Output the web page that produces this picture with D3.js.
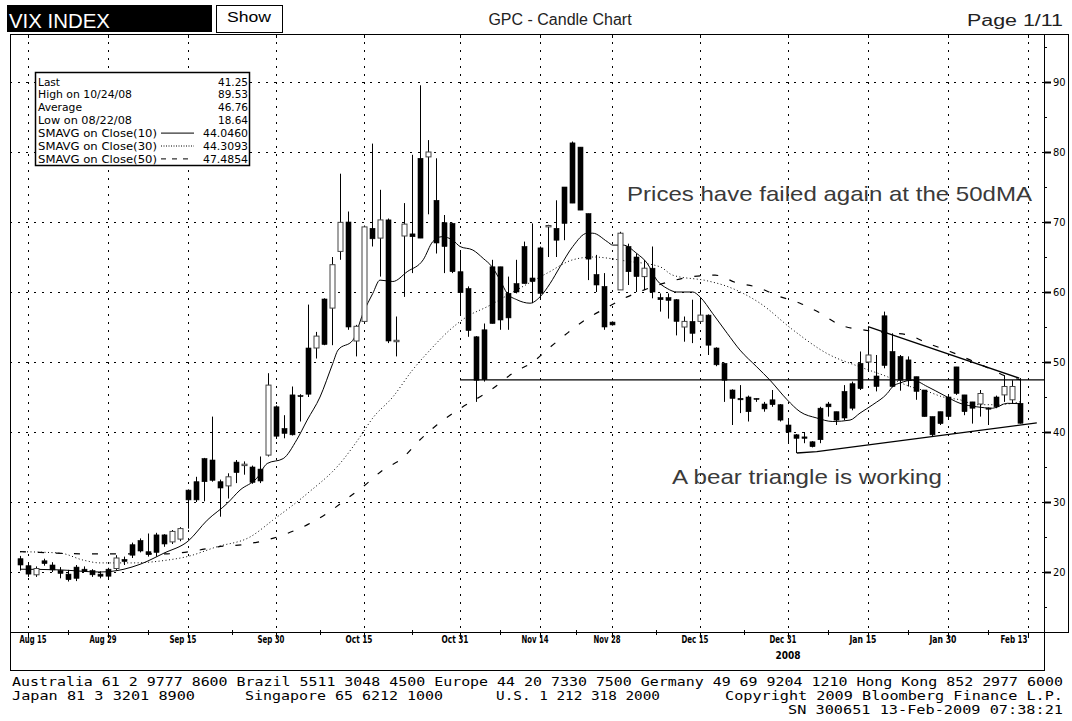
<!DOCTYPE html>
<html><head><meta charset="utf-8">
<script src="https://cdn.jsdelivr.net/npm/d3@7"></script>
<style>body{margin:0;background:#fff}svg{display:block}</style>
</head><body><svg id="c" width="1072" height="721"></svg>
<script>
// ---------- DATA ----------
const months = ["Aug","Sep","Oct","Nov","Dec","Jan","Feb"];
const days = [
  [14,15,18,19,20,21,22,25,26,27,28,29],
  [2,3,4,5,8,9,10,11,12,15,16,17,18,19,22,23,24,25,26,29,30],
  [1,2,3,6,7,8,9,10,13,14,15,16,17,20,21,22,23,24,27,28,29,30,31],
  [3,4,5,6,7,10,11,12,13,14,17,18,19,20,21,24,25,26,28],
  [1,2,3,4,5,8,9,10,11,12,15,16,17,18,19,22,23,24,26,29,30,31],
  [2,5,6,7,8,9,12,13,14,15,16,20,21,22,23,26,27,28,29,30],
  [2,3,4,5,6,9,10,11,12]
];
const open = [21.9,20.9,19.6,21.6,21.0,20.2,19.7,20.7,20.4,20.2,19.7,20.4,
 20.5,21.8,23.9,24.5,22.9,25.3,25.3,24.3,24.7,31.7,32.9,36.2,36.0,32.9,32.3,35.7,35.2,35.0,34.7,36.7,43.6,
 40.5,45.3,45.2,52.0,52.0,59.0,57.7,65.8,70.0,53.0,55.8,69.1,67.7,70.3,52.9,68.0,68.3,79.1,79.3,73.1,69.9,69.8,62.9,
 60.5,53.6,54.6,63.6,63.6,59.8,61.2,66.5,62.0,66.3,69.3,69.1,75.0,81.3,80.7,71.2,62.5,60.8,55.7,
 60.3,66.5,65.0,62.2,63.4,59.2,59.2,58.9,55.0,55.8,55.8,56.7,52.0,49.8,46.0,44.8,45.0,44.8,44.0,44.6,43.9,41.0,
 39.6,39.3,38.6,43.4,44.0,42.9,45.8,46.9,49.8,50.0,48.0,56.6,51.5,50.8,50.3,47.9,46.0,42.2,42.9,45.0,
 49.3,45.3,44.3,44.0,43.4,45.0,45.3,44.6,44.1];
const high = [22.3,21.4,20.8,21.9,21.4,20.7,20.3,21.0,20.8,20.4,20.1,20.6,
 22.4,22.2,24.2,24.8,25.5,25.6,25.4,26.0,26.4,31.8,33.6,36.3,42.2,33.2,34.1,36.0,35.8,35.2,36.5,48.4,43.8,
 42.4,46.5,45.4,58.2,54.3,59.1,65.0,76.9,71.5,55.3,69.5,81.2,74.6,70.5,56.5,72.7,79.6,89.53,81.7,79.1,71.0,69.9,65.8,
 60.8,53.7,55.5,64.6,63.6,62.2,64.6,67.2,69.8,66.5,69.6,73.1,75.0,81.5,80.7,71.2,65.3,62.7,55.8,
 68.6,66.9,65.5,64.6,66.5,59.8,59.8,59.0,56.5,58.9,58.9,56.8,52.1,49.9,46.1,46.7,45.2,44.8,44.3,46.0,44.0,41.7,
 39.7,40.0,38.7,43.6,44.3,42.9,46.7,47.2,51.5,55.0,51.0,57.2,54.1,51.0,50.8,47.9,46.0,42.2,42.9,45.2,
 49.3,45.3,44.3,46.0,43.5,45.2,48.1,47.4,47.7];
const low = [20.2,19.3,19.3,20.9,20.0,19.1,18.64,18.7,20.0,19.3,19.1,19.1,
 20.3,21.0,22.0,22.8,22.2,22.2,23.6,24.0,24.4,26.2,30.0,30.1,32.9,27.9,30.5,32.7,33.9,32.6,32.7,36.5,39.0,
 39.1,39.5,41.5,45.0,50.5,52.4,52.4,64.6,54.6,50.8,55.5,66.5,62.2,52.7,50.8,59.3,62.7,67.7,71.1,65.5,62.7,62.7,56.7,
 53.6,44.3,47.2,55.5,54.6,54.6,59.8,61.2,58.4,58.9,65.0,65.0,67.4,72.7,71.7,61.7,60.0,54.6,55.2,
 60.3,61.0,60.0,60.3,59.1,57.2,56.2,53.8,52.9,52.7,55.5,51.0,49.4,44.3,41.0,42.7,41.5,44.3,42.9,43.6,41.5,38.4,
 37.0,38.4,37.8,38.4,42.2,41.0,41.7,43.1,46.0,48.6,45.8,49.1,46.4,45.9,46.5,44.6,42.2,39.3,41.0,42.0,
 45.3,42.4,41.2,42.2,41.0,43.4,44.3,44.1,41.2];
const close = [21.0,19.7,20.5,21.2,20.3,19.8,18.9,19.1,20.1,19.6,19.4,19.4,
 22.0,21.5,22.4,23.0,22.5,22.8,24.0,25.8,26.2,30.3,30.3,32.9,33.1,32.0,33.6,34.2,35.4,32.8,33.0,46.7,39.4,
 39.8,39.6,45.1,45.4,53.7,52.5,63.9,69.95,55.0,55.1,69.3,67.6,70.3,53.0,53.1,69.7,67.9,67.7,80.0,67.0,66.5,62.9,59.9,
 54.5,47.4,47.5,55.5,56.0,56.3,60.0,61.2,61.5,59.8,69.5,67.4,69.8,72.7,71.7,64.7,61.0,55.0,55.3,
 68.4,62.9,62.2,63.4,60.0,58.9,58.8,55.8,55.8,54.1,56.7,52.4,49.6,47.4,44.8,44.6,42.9,44.7,43.3,43.9,41.7,40.0,
 39.1,39.1,37.9,38.9,43.6,41.7,42.0,43.4,46.2,51.0,46.5,49.5,46.5,47.4,47.4,45.8,42.2,39.6,41.2,42.2,
 45.5,42.9,43.4,45.5,43.3,43.6,46.5,46.5,41.25];

// moving averages: [day position, value]
const ma10 = [[0,20.4],[5,20.3],[10,20.0],[13,20.4],[15,21.1],[18,22.7],[21,24.4],[23.4,27.4],[25.9,29.8],[27.5,31.7],[29.6,33.4],[30.9,35.5],[32.9,36.2],[34.6,38.9],[35.9,41.7],[37.5,45.0],[39.1,49.8],[39.75,51.7],[41.6,53.1],[42.9,57.0],[44.1,59.8],[45,61.7],[46.6,61.5],[48.4,62.9],[50.4,64.6],[51.6,67.2],[52.75,67.9],[54.1,67.4],[55,66.5],[56.6,66.0],[57.9,64.8],[59,63.6],[60,61.7],[60.9,59.8],[62.1,58.9],[63.75,58.4],[65,59.3],[66.25,61.2],[67.5,63.6],[69.1,66.5],[70.9,68.4],[71.6,68.4],[73.4,67.2],[74.1,66.7],[75.4,66.7],[77.1,65.5],[78.4,64.1],[79.6,61.7],[80.9,60.5],[82.1,60.0],[84.1,60.0],[85,59.3],[86.6,56.9],[88.4,54.1],[90,51.7],[92.1,49.3],[93.75,47.4],[95.9,44.6],[97.5,42.9],[99.6,42.0],[101.6,41.5],[103.75,41.7],[105,42.7],[106.6,43.9],[108.4,45.5],[109.1,46.5],[110,47.0],[111.6,47.4],[113.4,46.5],[115.4,45.3],[117.5,44.1],[119.6,43.6],[121.6,43.4],[123.4,44.1],[125,44.05]];
const ma30 = [[0,22.9],[5,22.7],[7.9,21.7],[10,21.3],[14.1,21.3],[18.4,21.7],[20.9,22.2],[24.6,23.6],[28.75,25.0],[31.6,27.4],[35.9,31.2],[40,35.5],[42.5,39.3],[44.1,42.0],[46.6,45.0],[49.1,48.9],[51.25,51.7],[53.75,54.6],[55.9,56.5],[58.4,57.9],[62.1,60.3],[65.9,62.7],[69.1,64.6],[71.6,65.0],[75.9,64.4],[80,63.6],[81.6,62.4],[85.9,61.6],[88.4,60.8],[92.5,58.4],[96.6,54.6],[100.9,51.2],[105,49.3],[108.4,47.9],[111.25,46.5],[113.4,45.8],[115.4,45.0],[117.5,44.6],[119.6,43.9],[121.6,43.9],[124.1,44.1],[125,44.31]];
const ma50 = [[0,22.9],[2.5,22.8],[7.9,22.6],[10.9,22.6],[18.4,22.6],[22.25,23.1],[24.75,23.6],[27.75,23.9],[30.6,24.5],[33.4,25.5],[36,26.8],[38.4,28.4],[40.9,30.5],[43.1,32.4],[45.4,34.6],[47.75,36.2],[49.75,38.6],[52.1,41.0],[54.4,42.9],[59.1,46.2],[61.6,48.4],[64.1,50.0],[66.25,52.1],[68.5,54.2],[70.9,56.2],[73.4,57.8],[75.9,59.3],[78.75,60.6],[81.25,61.5],[84,62.2],[86.9,62.4],[89.6,61.3],[92.1,60.7],[94.6,59.5],[97.5,58.4],[100,57.0],[102.5,55.3],[105.4,54.6],[108.1,54.2],[110.9,53.9],[113.4,52.7],[116.25,51.5],[118.75,50.3],[121.5,48.9],[123.4,47.9],[125,47.49]];

// axis ticks
const xTickLabels = ["Aug 15","Aug 29","Sep 15","Sep 30","Oct 15","Oct 31","Nov 14","Nov 28","Dec 15","Dec 31","Jan 15","Jan 30","Feb 13"];
const xTickPos = [1,11,21,32,43,55,65,74,85,96,106,116,126];
const yTicks = [20,30,40,50,60,70,80,90];

// annotations (day position, value)
const line50 = [[55,47.45],[128,47.45]];
const resistance = [[106,55.05],[124.9,47.7]];
const support = [[97.1,37.0],[99.6,37.2],[127.1,41.3]];

const legendLabels = ["Last","High on 10/24/08","Average","Low on 08/22/08","SMAVG on Close(10)","SMAVG on Close(30)","SMAVG on Close(50)"];
const legendValues = ["41.25","89.53","46.76","18.64","44.0460","44.3093","47.4854"];

// ---------- CHART ----------
const dates = [];
months.forEach((m,k)=>days[k].forEach(d=>dates.push(m+" "+d)));
const data = dates.map((d,i)=>({d,i,o:open[i],h:high[i],l:low[i],c:close[i]}));

const L=10, R=1044, T=34, B=632;
const svg = d3.select("#c");
const x = d3.scaleLinear().domain([0,126]).range([20,1028]);
const y = d3.scaleLinear().domain([20,90]).range([572,82]);
const sans = "'Liberation Sans', Arial, sans-serif";
const narrow = "'DejaVu Sans Condensed','Liberation Sans Narrow','Liberation Sans',sans-serif";

svg.append("rect").attr("width",1072).attr("height",721).attr("fill","#fff");

// grid
const g = svg.append("g");
g.selectAll("line.hg").data(yTicks).join("line")
  .attr("x1",L).attr("x2",R).attr("y1",d=>Math.round(y(d))+0.5).attr("y2",d=>Math.round(y(d))+0.5)
  .attr("stroke","#000").attr("stroke-width",1).attr("stroke-dasharray","2,6");
g.selectAll("line.vg").data(xTickPos).join("line")
  .attr("y1",T).attr("y2",B).attr("x1",d=>Math.round(x(d))+0.5).attr("x2",d=>Math.round(x(d))+0.5)
  .attr("stroke","#000").attr("stroke-width",1).attr("stroke-dasharray","2,6");

// moving averages
const ln = d3.line().x(d=>x(d[0])).y(d=>y(d[1])).curve(d3.curveMonotoneX);
svg.append("path").attr("d",ln(ma50)).attr("fill","none").attr("stroke","#000").attr("stroke-width",1.2).attr("stroke-dasharray","6,12");
svg.append("path").attr("d",ln(ma30)).attr("fill","none").attr("stroke","#000").attr("stroke-width",1).attr("stroke-dasharray","1,2.5");
svg.append("path").attr("d",ln(ma10)).attr("fill","none").attr("stroke","#000").attr("stroke-width",1);

// annotation lines
const lnS = d3.line().x(d=>x(d[0])).y(d=>y(d[1]));
svg.append("path").attr("d",lnS(line50)).attr("stroke","#000").attr("stroke-width",1.3).attr("fill","none");
svg.append("path").attr("d",lnS(resistance)).attr("stroke","#000").attr("stroke-width",1.3).attr("fill","none");
svg.append("path").attr("d",lnS(support)).attr("stroke","#000").attr("stroke-width",1.3).attr("fill","none");

// candles
const cg = svg.append("g");
const cx = d=>Math.round(x(d.i));
cg.selectAll("line.w").data(data).join("line")
  .attr("x1",d=>cx(d)+0.5).attr("x2",d=>cx(d)+0.5)
  .attr("y1",d=>y(d.h)).attr("y2",d=>y(d.l))
  .attr("stroke","#000").attr("stroke-width",1);
cg.selectAll("rect.b").data(data).join("rect")
  .attr("x",d=>cx(d)-2).attr("width",5)
  .attr("y",d=>y(Math.max(d.o,d.c))).attr("height",d=>Math.max(1,Math.abs(y(d.o)-y(d.c))))
  .attr("fill",d=>d.c>=d.o?"#fff":"#000").attr("stroke",d=>d.c>=d.o?"#444":"#000").attr("stroke-width",d=>d.c>=d.o?1:0.6);

// annotation texts
svg.append("text").attr("x",627).attr("y",201).attr("font-family",sans).attr("font-size",21)
  .attr("fill","#3a3a3a").attr("textLength",405).attr("lengthAdjust","spacingAndGlyphs")
  .text("Prices have failed again at the 50dMA");
svg.append("text").attr("x",672).attr("y",484).attr("font-family",sans).attr("font-size",21)
  .attr("fill","#3a3a3a").attr("textLength",270).attr("lengthAdjust","spacingAndGlyphs")
  .text("A bear triangle is working");

// legend box
const lg = svg.append("g");
lg.append("rect").attr("x",35.5).attr("y",72.5).attr("width",214).attr("height",93).attr("fill","#fff").attr("stroke","#000").attr("stroke-width",1.5);
const rowY = i=>85.5+i*12.9;
const labelW = [22,94,44,94,119,119,119];
const valueW = [30,30,30,30,45,45,45];
lg.selectAll("text.ll").data(legendLabels).join("text")
  .attr("x",38).attr("y",(d,i)=>rowY(i)).attr("font-family",narrow).attr("font-size",10.8).attr("fill","#000")
  .attr("textLength",(d,i)=>labelW[i]).attr("lengthAdjust","spacingAndGlyphs")
  .text(d=>d);
lg.selectAll("text.lv").data(legendValues).join("text")
  .attr("x",(d,i)=>248-valueW[i]).attr("y",(d,i)=>rowY(i)).attr("font-family",narrow).attr("font-size",10.8).attr("fill","#000")
  .attr("textLength",(d,i)=>valueW[i]).attr("lengthAdjust","spacingAndGlyphs")
  .text(d=>d);
const dashes = [null,"1,1.5","5,6"];
[4,5,6].forEach((r,k)=>{
  lg.append("line").attr("x1",161).attr("x2",194).attr("y1",rowY(r)-4).attr("y2",rowY(r)-4)
    .attr("stroke","#000").attr("stroke-width",1).attr("stroke-dasharray",dashes[k]);
});

// frame
svg.append("line").attr("x1",L).attr("x2",1068).attr("y1",T+0.5).attr("y2",T+0.5).attr("stroke","#000");
svg.append("line").attr("x1",L+0.5).attr("x2",L+0.5).attr("y1",T).attr("y2",670).attr("stroke","#000");
svg.append("line").attr("x1",L).attr("x2",R).attr("y1",B+0.5).attr("y2",B+0.5).attr("stroke","#000");
svg.append("line").attr("x1",R+0.5).attr("x2",R+0.5).attr("y1",T).attr("y2",670).attr("stroke","#000");
svg.append("line").attr("x1",1068.5).attr("x2",1068.5).attr("y1",T).attr("y2",B+1).attr("stroke","#000");
svg.append("line").attr("x1",R).attr("x2",1069).attr("y1",B+0.5).attr("y2",B+0.5).attr("stroke","#000");
svg.append("line").attr("x1",L).attr("x2",R+1).attr("y1",670.5).attr("y2",670.5).attr("stroke","#000");

// top ticks
svg.selectAll("line.tt").data(xTickPos).join("line")
  .attr("x1",d=>Math.round(x(d))+0.5).attr("x2",d=>Math.round(x(d))+0.5).attr("y1",T).attr("y2",T+4).attr("stroke","#000");

// x axis ticks & labels
const mids = xTickPos.slice(0,-1).map((p,k)=>(p+xTickPos[k+1])/2);
svg.selectAll("line.xm").data(mids).join("line")
  .attr("x1",d=>Math.round(x(d))+0.5).attr("x2",d=>Math.round(x(d))+0.5).attr("y1",B-2).attr("y2",B+3).attr("stroke","#000");
svg.selectAll("line.xM").data(xTickPos).join("line")
  .attr("x1",d=>Math.round(x(d))+0.5).attr("x2",d=>Math.round(x(d))+0.5).attr("y1",B).attr("y2",B+6).attr("stroke","#000");
svg.selectAll("text.xl").data(xTickLabels).join("text")
  .attr("x",(d,k)=>Math.min(1014,Math.max(33,x(xTickPos[k])-5))).attr("y",643)
  .attr("text-anchor","middle").attr("font-family",narrow).attr("font-weight","bold").attr("font-size",10)
  .attr("textLength",27).attr("lengthAdjust","spacingAndGlyphs").text(d=>d);
svg.append("text").attr("x",x(96)).attr("y",659).attr("text-anchor","middle").attr("font-family",narrow)
  .attr("font-weight","bold").attr("font-size",10).text("2008");

// y axis
svg.selectAll("line.yM").data(yTicks).join("line")
  .attr("x1",R).attr("x2",R+7).attr("y1",d=>Math.round(y(d))+0.5).attr("y2",d=>Math.round(y(d))+0.5)
  .attr("stroke","#000").attr("stroke-width",2);
svg.selectAll("line.ym").data(yTicks.map(v=>v-5).concat([95])).join("line")
  .attr("x1",R).attr("x2",R+3).attr("y1",d=>Math.round(y(d))+0.5).attr("y2",d=>Math.round(y(d))+0.5)
  .attr("stroke","#000");
svg.selectAll("text.yl").data(yTicks).join("text")
  .attr("x",1053).attr("y",d=>y(d)+4).attr("font-family",narrow).attr("font-size",11).text(d=>d);

// header
svg.append("rect").attr("x",7).attr("y",5).attr("width",205).attr("height",27).attr("fill","#000");
svg.append("text").attr("x",9).attr("y",28).attr("font-family",sans).attr("font-size",20).attr("fill","#fff")
  .attr("textLength",101).attr("lengthAdjust","spacingAndGlyphs").text("VIX INDEX");
svg.append("rect").attr("x",216.5).attr("y",5.5).attr("width",66).attr("height",27).attr("fill","#fff").attr("stroke","#000");
svg.append("text").attr("x",249).attr("y",22).attr("text-anchor","middle").attr("font-family",sans).attr("font-size",15)
  .attr("textLength",44).attr("lengthAdjust","spacingAndGlyphs").text("Show");
svg.append("text").attr("x",560).attr("y",25).attr("text-anchor","middle").attr("font-family",sans).attr("font-size",16)
  .attr("fill","#222").text("GPC - Candle Chart");
svg.append("text").attr("x",967).attr("y",26).attr("font-family",sans).attr("font-size",16)
  .attr("fill","#222").attr("textLength",96).attr("lengthAdjust","spacingAndGlyphs").text("Page 1/11");

// footer
const mono = "'DejaVu Sans Mono','Liberation Mono',monospace";
const foot = [
  ["Australia 61 2 9777 8600 Brazil 5511 3048 4500 Europe 44 20 7330 7500 Germany 49 69 9204 1210 Hong Kong 852 2977 6000",12,1051,686],
  ["Japan 81 3 3201 8900",12,183,700],
  ["Singapore 65 6212 1000",245,198,700],
  ["U.S. 1 212 318 2000",496,164,700],
  ["Copyright 2009 Bloomberg Finance L.P.",725,338,700],
  ["SN 300651 13-Feb-2009 07:38:21",788,275,714]
];
svg.selectAll("text.ft").data(foot).join("text")
  .attr("x",d=>d[1]).attr("y",d=>d[3]).attr("font-family",mono).attr("font-size",13)
  .attr("textLength",d=>d[2]).attr("lengthAdjust","spacingAndGlyphs").text(d=>d[0]);
</script>
</body></html>
